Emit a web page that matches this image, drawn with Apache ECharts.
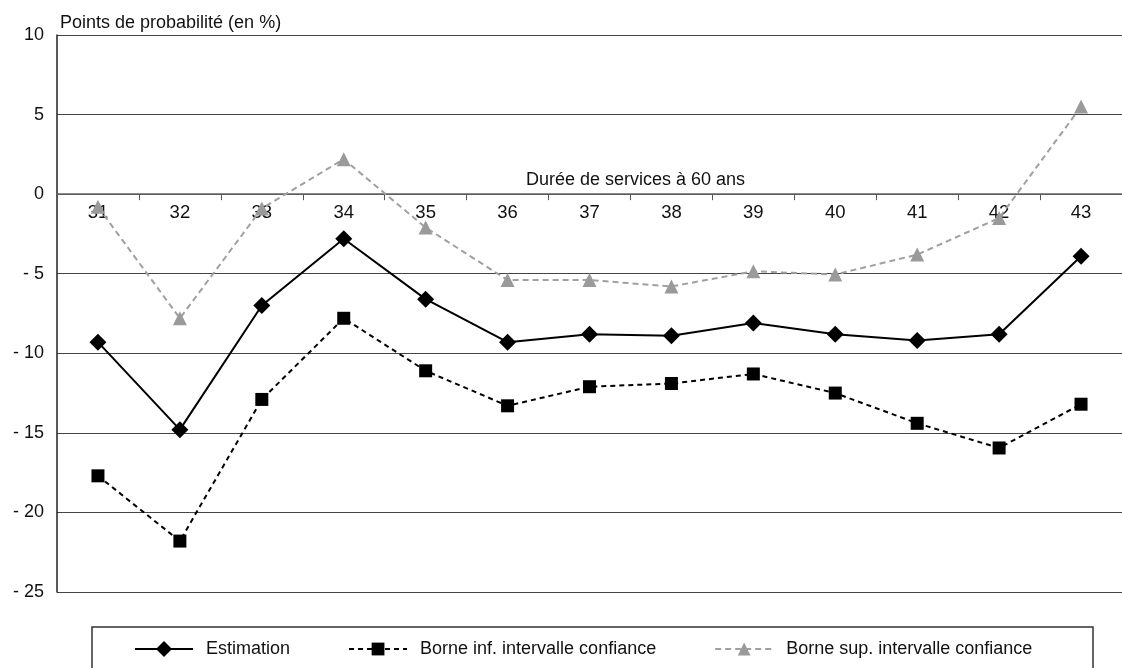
<!DOCTYPE html>
<html>
<head>
<meta charset="utf-8">
<script src="https://cdn.jsdelivr.net/npm/echarts@6/dist/echarts.min.js"></script>
<style>
  html, body { margin: 0; padding: 0; background: #fff; }
  #chart { width: 1122px; height: 668px; }
</style>
</head>
<body>
<div id="chart"></div>
<script>
// Durée de services à 60 ans
const categories = ['31', '32', '33', '34', '35', '36', '37', '38', '39', '40', '41', '42', '43'];

// Points de probabilité (en %)
const estimation = [-9.3, -14.8, -7.0, -2.8, -6.6, -9.3, -8.8, -8.9, -8.1, -8.8, -9.2, -8.8, -3.9];
const borneInf   = [-17.7, -21.8, -12.9, -7.8, -11.1, -13.3, -12.1, -11.9, -11.3, -12.5, -14.4, -15.95, -13.2];
const borneSup   = [-0.8, -7.8, -0.9, 2.2, -2.1, -5.4, -5.4, -5.8, -4.85, -5.05, -3.8, -1.5, 5.5];

// Value axis range and step
const yMin = -25, yMax = 10, yStep = 5;

const seriesNames = ['Estimation', 'Borne inf. intervalle confiance', 'Borne sup. intervalle confiance'];

const FONT = '"Liberation Sans", Arial, Helvetica, sans-serif';
const chart = echarts.init(document.getElementById('chart'), null, { renderer: 'canvas' });

// Plot box
const gridTop = 35, gridBottom = 76, H = 668;
const plotH = H - gridTop - gridBottom;
// Shift the category axis (line, ticks, labels) up to the zero line
const zeroOffset = -plotH * (0 - yMin) / (yMax - yMin);

// Legend key for the solid series: a line with a full-size diamond on it
const lineDiamondIcon = 'path://M0,7H58V9H0Z M29,0L37,8L29,16L21,8Z';

chart.setOption({
  backgroundColor: '#ffffff',
  animation: false,
  textStyle: { fontFamily: FONT },
  title: [
    {
      text: 'Points de probabilité (en %)',
      left: 55, top: 9,
      textStyle: { fontFamily: FONT, fontSize: 18, fontWeight: 'normal', color: '#111' }
    },
    {
      text: 'Durée de services à 60 ans',
      left: 521, top: 166,
      textStyle: { fontFamily: FONT, fontSize: 18, fontWeight: 'normal', color: '#111' }
    }
  ],
  grid: { left: 57, right: -9, top: gridTop, bottom: gridBottom, containLabel: false },
  xAxis: {
    type: 'category',
    data: categories,
    boundaryGap: true,
    position: 'bottom',
    offset: zeroOffset,
    axisLine: { onZero: false, lineStyle: { color: '#666', width: 1.5 } },
    axisTick: { show: true, length: 6, lineStyle: { color: '#555', width: 1 } },
    axisLabel: { color: '#111', fontSize: 18.5, fontFamily: FONT, margin: 9, interval: 0 },
    splitLine: { show: false }
  },
  yAxis: {
    type: 'value',
    min: yMin, max: yMax, interval: yStep,
    axisLine: { show: true, lineStyle: { color: '#222', width: 1.5 } },
    axisTick: { show: false },
    axisLabel: {
      color: '#111', fontSize: 18, fontFamily: FONT, margin: 13,
      formatter: v => (v < 0 ? '- ' + Math.abs(v) : String(v))
    },
    splitLine: { show: true, lineStyle: { color: '#444', width: 1.2 } }
  },
  legend: {
    data: [
      { name: seriesNames[0], icon: lineDiamondIcon },
      { name: seriesNames[1] },
      { name: seriesNames[2] }
    ],
    left: 135, top: 640,
    itemWidth: 58, itemHeight: 16, itemGap: 58,
    padding: 0,
    textStyle: { fontFamily: FONT, fontSize: 18, color: '#111', padding: [0, 0, 0, 8] }
  },
  graphic: [
    {
      type: 'rect',
      shape: { x: 92, y: 627, width: 1001, height: 48 },
      style: { fill: 'none', stroke: '#333', lineWidth: 1.5 },
      silent: true
    }
  ],
  series: [
    {
      name: seriesNames[0],
      type: 'line',
      data: estimation,
      symbol: 'diamond', symbolSize: 17,
      itemStyle: { color: '#000' },
      lineStyle: { color: '#000', width: 2, type: 'solid' },
      z: 4
    },
    {
      name: seriesNames[1],
      type: 'line',
      data: borneInf,
      symbol: 'rect', symbolSize: 13,
      itemStyle: { color: '#000' },
      lineStyle: { color: '#000', width: 2, type: [5, 4] },
      z: 3
    },
    {
      name: seriesNames[2],
      type: 'line',
      data: borneSup,
      symbol: 'triangle', symbolSize: 14,
      itemStyle: { color: '#9a9a9a' },
      lineStyle: { color: '#a0a0a0', width: 2, type: [6, 4] },
      z: 2
    }
  ]
});
</script>
</body>
</html>
